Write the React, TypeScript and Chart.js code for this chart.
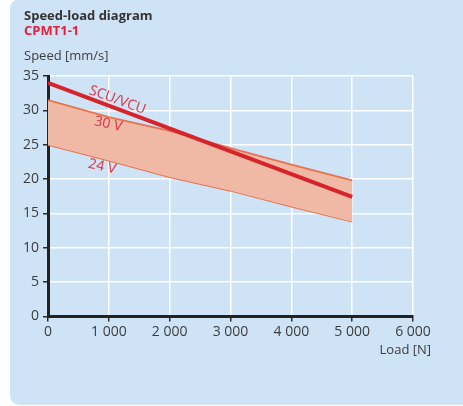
import React, { useEffect, useRef } from 'react';
import { Chart, registerables } from 'chart.js';

Chart.register(...registerables);

const loads = [0, 1000, 2000, 3000, 4000, 5000];
const speed30V = [31.5, 29.0, 27.0, 24.5, 22.1, 19.8];
const speed24V = [25.0, 22.7, 20.3, 18.3, 16.0, 13.8];
const scuLoads = [0, 5000];
const speedSCU = [34.0, 17.4];

const seriesNames = ['SCU/VCU', '30 V', '24 V'];
const titleText = 'Speed-load diagram';
const subtitleText = 'CPMT1-1';
const yTitle = 'Speed [mm/s]';
const xTitle = 'Load [N]';

// label anchor positions in data units [load, speed, angleDeg]
const labelAnchors: [number, number, number][] = [
  [1140, 31.5, 20],
  [990, 28.0, 12],
  [890, 21.8, 13],
];

const fmt = (v: number) => {
  if (v === 0) return '0';
  const s = String(v);
  return s.replace(/\B(?=(\d{3})+(?!\d))/g, ' ');
};

export default function App() {
  const ref = useRef<HTMLCanvasElement | null>(null);

  useEffect(() => {
    document.body.style.margin = '0';
    const canvas = ref.current;
    if (!canvas) return;

    const panelPlugin = {
      id: 'panel',
      beforeDraw(chart: any) {
        const ctx = chart.ctx;
        ctx.save();
        ctx.fillStyle = '#ffffff';
        ctx.fillRect(0, 0, chart.width, chart.height);
        const x = 10, y = -1, w = 480, h = 406, r = 11;
        ctx.beginPath();
        ctx.moveTo(x + r, y);
        ctx.lineTo(x + w, y);
        ctx.lineTo(x + w, y + h);
        ctx.lineTo(x + r, y + h);
        ctx.quadraticCurveTo(x, y + h, x, y + h - r);
        ctx.lineTo(x, y + r);
        ctx.quadraticCurveTo(x, y, x + r, y);
        ctx.closePath();
        ctx.fillStyle = '#cfe3f6';
        ctx.fill();

        ctx.textAlign = 'left';
        ctx.textBaseline = 'alphabetic';
        ctx.fillStyle = '#333333';
        ctx.font = 'bold 13px "Open Sans"';
        ctx.fillText(titleText, 24, 20);
        ctx.fillStyle = '#e2213c';
        ctx.fillText(subtitleText, 24, 35);
        ctx.fillStyle = '#3c3c3c';
        ctx.font = '13px "Open Sans"';
        ctx.fillText(yTitle, 24, 60);
        ctx.textAlign = 'right';
        ctx.fillText(xTitle, 431, 354);
        ctx.restore();
      },
      afterDatasetsDraw(chart: any) {
        const ctx = chart.ctx;
        const xs = chart.scales.x;
        const ys = chart.scales.y;
        ctx.save();
        ctx.fillStyle = '#e0303f';
        ctx.font = '14px "Open Sans"';
        ctx.textAlign = 'center';
        ctx.textBaseline = 'middle';
        labelAnchors.forEach((a, i) => {
          const px = xs.getPixelForValue(a[0]);
          const py = ys.getPixelForValue(a[1]);
          ctx.save();
          ctx.translate(px, py);
          ctx.rotate((a[2] * Math.PI) / 180);
          ctx.fillText(seriesNames[i], 0, 0);
          ctx.restore();
        });
        ctx.restore();
      },
    };

    const tickFont = { family: 'Open Sans', size: 14 };

    const chart = new Chart(canvas, {
      type: 'line',
      data: {
        datasets: [
          {
            label: seriesNames[0],
            data: scuLoads.map((x, i) => ({ x, y: speedSCU[i] })),
            borderColor: '#d7232b',
            borderWidth: 4,
            pointRadius: 0,
            fill: false,
          },
          {
            label: seriesNames[1],
            data: loads.map((x, i) => ({ x, y: speed30V[i] })),
            borderColor: '#e8714f',
            backgroundColor: '#f0b9a5',
            borderWidth: 1.8,
            pointRadius: 0,
            fill: '+1',
          },
          {
            label: seriesNames[2],
            data: loads.map((x, i) => ({ x, y: speed24V[i] })),
            borderColor: '#e8714f',
            borderWidth: 1.8,
            pointRadius: 0,
            fill: false,
          },
        ],
      },
      options: {
        animation: false,
        responsive: false,
        devicePixelRatio: 1,
        layout: { padding: { top: 76, right: 50, left: 0, bottom: 0 } },
        plugins: {
          legend: { display: false },
          tooltip: { enabled: false },
        },
        scales: {
          x: {
            type: 'linear',
            min: 0,
            max: 6000,
            afterFit: (s: any) => {
              s.height = 89.5;
            },
            ticks: {
              stepSize: 1000,
              padding: 2,
              color: '#3c3c3c',
              font: tickFont,
              maxRotation: 0,
              callback: (v: any) => fmt(Number(v)),
            },
            grid: {
              color: '#ffffff',
              lineWidth: 1.5,
              tickColor: '#2a2a2a',
              tickLength: 5,
              tickWidth: 1.5,
            },
            border: { display: true, color: '#222222', width: 3 },
          },
          y: {
            type: 'linear',
            min: 0,
            max: 35,
            afterFit: (s: any) => {
              s.width = 48;
            },
            ticks: {
              stepSize: 5,
              padding: 4,
              color: '#3c3c3c',
              font: tickFont,
            },
            grid: {
              color: '#ffffff',
              lineWidth: 1.5,
              tickColor: '#2a2a2a',
              tickLength: 5,
              tickWidth: 1.5,
            },
            border: { display: true, color: '#222222', width: 3 },
          },
        },
      },
      plugins: [panelPlugin],
    } as any);

    return () => chart.destroy();
  }, []);

  return (
    <div style={{ position: 'absolute', left: 0, top: 0, width: 463, height: 406 }}>
      <canvas ref={ref} width={463} height={406} style={{ display: 'block', width: 463, height: 406 }} />
    </div>
  );
}
